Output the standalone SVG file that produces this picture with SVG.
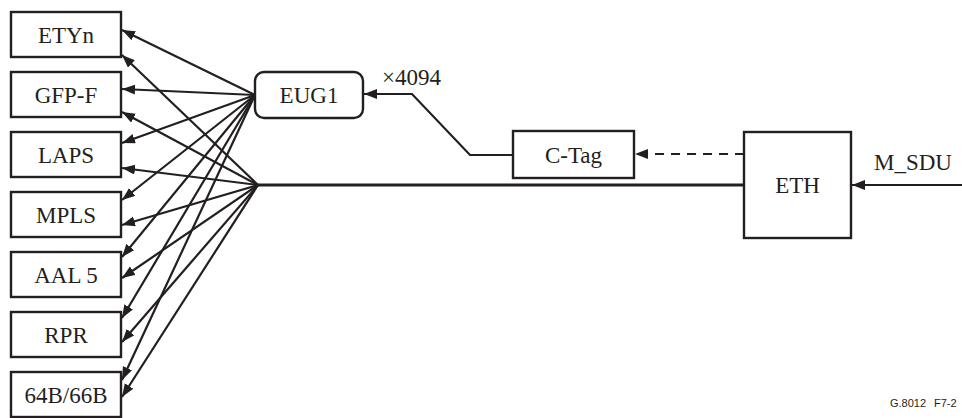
<svg xmlns="http://www.w3.org/2000/svg" width="962" height="418" viewBox="0 0 962 418">
<style>
.box{fill:#fff;stroke:#231f20;stroke-width:2.4}
.t{font-family:"Liberation Serif","Times New Roman",serif;font-size:23px;fill:#231f20;text-anchor:middle}
.l{font-family:"Liberation Serif","Times New Roman",serif;font-size:23px;fill:#231f20}
.ln{fill:none;stroke:#231f20;stroke-width:2.2;marker-end:url(#ah)}
</style>
<defs>
<marker id="ah" markerUnits="userSpaceOnUse" markerWidth="14" markerHeight="11" refX="13" refY="5" orient="auto">
<path d="M0,0 L13,5 L0,10 z" fill="#231f20"/>
</marker>
</defs>
<rect width="962" height="418" fill="#fff"/>
<g id="connectors">
<line class="ln" x1="255" y1="95" x2="122" y2="30"/>
<line class="ln" x1="255" y1="95" x2="122" y2="89"/>
<line class="ln" x1="255" y1="95" x2="122" y2="143"/>
<line class="ln" x1="255" y1="95" x2="122" y2="200"/>
<line class="ln" x1="255" y1="95" x2="122" y2="257"/>
<line class="ln" x1="255" y1="95" x2="122" y2="318"/>
<line class="ln" x1="255" y1="95" x2="122" y2="380"/>
<line class="ln" x1="258" y1="185" x2="122" y2="55"/>
<line class="ln" x1="258" y1="185" x2="122" y2="112"/>
<line class="ln" x1="258" y1="185" x2="122" y2="168"/>
<line class="ln" x1="258" y1="185" x2="122" y2="225"/>
<line class="ln" x1="258" y1="185" x2="122" y2="278"/>
<line class="ln" x1="258" y1="185" x2="122" y2="342"/>
<line class="ln" x1="258" y1="185" x2="122" y2="397"/>
<line x1="258" y1="185" x2="744" y2="185" stroke="#231f20" stroke-width="3"/>
<polyline class="ln" points="513,155 470,155 412,94 364,94"/>
<line class="ln" x1="744" y1="154" x2="635" y2="154" stroke-dasharray="9,7"/>
<line class="ln" x1="962" y1="185" x2="852" y2="185" stroke-width="3"/>
</g>
<g id="etyn"><rect class="box" x="11" y="12" width="110" height="45"/><text class="t" x="66" y="43">ETYn</text></g>
<g id="gfpf"><rect class="box" x="11" y="72" width="110" height="45"/><text class="t" x="66" y="103">GFP-F</text></g>
<g id="laps"><rect class="box" x="11" y="132" width="110" height="45"/><text class="t" x="66" y="163">LAPS</text></g>
<g id="mpls"><rect class="box" x="11" y="192" width="110" height="45"/><text class="t" x="66" y="223">MPLS</text></g>
<g id="aal5"><rect class="box" x="11" y="252" width="110" height="45"/><text class="t" x="66" y="283">AAL 5</text></g>
<g id="rpr"><rect class="box" x="11" y="312" width="110" height="45"/><text class="t" x="66" y="343">RPR</text></g>
<g id="b64"><rect class="box" x="11" y="372" width="110" height="45"/><text class="t" x="66" y="403">64B/66B</text></g>
<g id="eug1"><rect class="box" x="255" y="72" width="108" height="46" rx="9"/><text class="t" x="309" y="103">EUG1</text></g>
<g id="ctag"><rect class="box" x="513" y="131" width="121" height="47"/><text class="t" x="573.5" y="163">C-Tag</text></g>
<g id="eth"><rect class="box" x="744" y="132" width="107" height="106"/><text class="t" x="797.5" y="193">ETH</text></g>
<text class="l" x="382" y="85">×4094</text>
<text class="l" x="874" y="170">M_SDU</text>
<text x="890" y="407" font-family="'Liberation Sans',Arial,sans-serif" font-size="11" fill="#231f20">G.8012<tspan x="934">F7-2</tspan></text>
</svg>
